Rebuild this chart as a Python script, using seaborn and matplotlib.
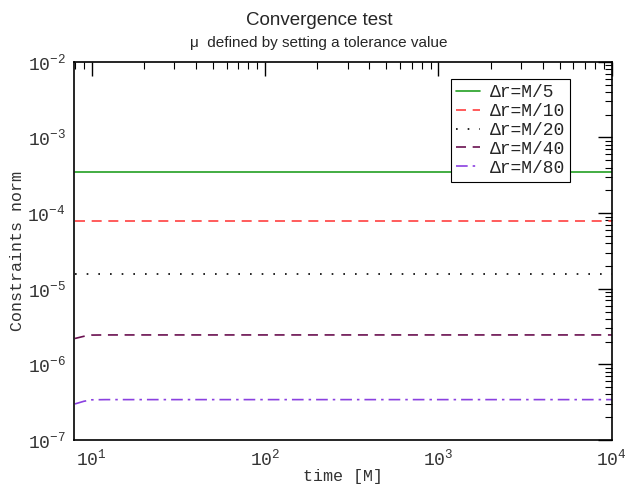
import matplotlib
matplotlib.use("Agg")
import matplotlib.pyplot as plt
import seaborn as sns
import numpy as np
import pandas as pd
from matplotlib.ticker import LogLocator, NullFormatter, FuncFormatter

sns.set_theme(style="white")
plt.rcParams['font.family'] = ['Liberation Mono', 'DejaVu Sans Mono']
plt.rcParams['mathtext.fontset'] = 'custom'
plt.rcParams['mathtext.rm'] = 'Liberation Mono'
plt.rcParams['mathtext.it'] = 'Liberation Mono'

# data
time = [8, 9, 10, 12, 100, 1000, 10000]
labels = ["Δr=M/5", "Δr=M/10", "Δr=M/20", "Δr=M/40", "Δr=M/80"]
norm_M5 = [3.5e-4, 3.5e-4, 3.5e-4, 3.5e-4, 3.5e-4, 3.5e-4, 3.5e-4]
norm_M10 = [7.9e-5, 7.9e-5, 7.9e-5, 7.9e-5, 7.9e-5, 7.9e-5, 7.9e-5]
norm_M20 = [1.57e-5, 1.57e-5, 1.57e-5, 1.57e-5, 1.57e-5, 1.57e-5, 1.57e-5]
norm_M40 = [2.2e-6, 2.35e-6, 2.44e-6, 2.45e-6, 2.45e-6, 2.45e-6, 2.45e-6]
norm_M80 = [3.0e-7, 3.25e-7, 3.4e-7, 3.42e-7, 3.42e-7, 3.42e-7, 3.42e-7]

series = [norm_M5, norm_M10, norm_M20, norm_M40, norm_M80]
colors = ["#22a022", "#ff4040", "#000000", "#6a1050", "#8a40e0"]
styles = ["-", (0, (6, 4)), (0, (1, 6)), (0, (6, 4)), (0, (7, 3, 1.5, 3))]

fig = plt.figure(figsize=(6.38, 4.87), dpi=100)
ax = fig.add_axes([0.116, 0.0965, 0.843, 0.7765])

for lab, vals, c, ls in zip(labels, series, colors, styles):
    df = pd.DataFrame({"time": time, "norm": vals})
    sns.lineplot(data=df, x="time", y="norm", ax=ax, color=c, linestyle=ls,
                 linewidth=1.2, label=lab)

ax.set_xscale("log")
ax.set_yscale("log")
ax.set_xlim(7.9, 1e4)
ax.set_ylim(1e-7, 1e-2)

def fmt(v, pos):
    e = int(round(np.log10(v)))
    return "10$^{%d}$" % e

ax.xaxis.set_major_locator(LogLocator(base=10, numticks=10))
ax.xaxis.set_minor_locator(LogLocator(base=10, subs=np.arange(2, 10), numticks=20))
ax.yaxis.set_major_locator(LogLocator(base=10, numticks=10))
ax.yaxis.set_minor_locator(LogLocator(base=10, subs=np.arange(2, 10), numticks=20))
ax.xaxis.set_major_formatter(FuncFormatter(fmt))
ax.yaxis.set_major_formatter(FuncFormatter(fmt))
ax.xaxis.set_minor_formatter(NullFormatter())
ax.yaxis.set_minor_formatter(NullFormatter())

ax.tick_params(which="both", direction="in", top=True, right=True, colors="black",
               labelsize=13, pad=6, labelcolor="#333333")
ax.tick_params(which="major", length=10, width=1.0)
ax.tick_params(which="minor", length=5, width=0.8)
for s in ax.spines.values():
    s.set_color("black")
    s.set_linewidth(1.2)

ax.set_xlabel("time [M]", fontsize=12, labelpad=0, color="#333333")
ax.set_ylabel("Constraints norm", fontsize=12, labelpad=2, color="#333333")

fig.text(0.5, 0.958, "Convergence test", ha="center", va="center",
         fontsize=13.5, family=["Liberation Sans"])
fig.text(0.5, 0.912, "μ  defined by setting a tolerance value", ha="center", va="center",
         fontsize=11, family=["Liberation Sans"])

leg = ax.legend(loc="upper right", bbox_to_anchor=(0.923, 0.955), fontsize=13,
                frameon=True, fancybox=False, framealpha=1, edgecolor="black",
                handlelength=1.3, borderpad=0.3, labelspacing=0.1, handletextpad=0.55,
                borderaxespad=0.0)
leg.get_frame().set_linewidth(0.8)

fig.savefig("out.png", dpi=100)
